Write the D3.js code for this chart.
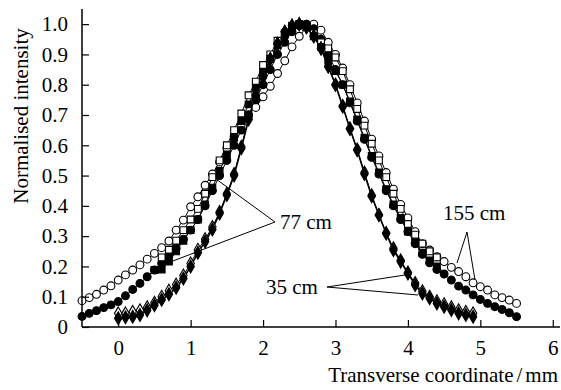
<!DOCTYPE html>
<html><head><meta charset="utf-8">
<script src="https://cdn.jsdelivr.net/npm/d3@7"></script>
<style>body{margin:0;background:#fff}</style></head>
<body><svg id="c" width="561" height="390"></svg>
<script>
// ---- data ----
const xTicks = [0,1,2,3,4,5,6];
const yTicks = [0,0.1,0.2,0.3,0.4,0.5,0.6,0.7,0.8,0.9,1.0];
const yTickLabels = ["0","0.1","0.2","0.3","0.4","0.5","0.6","0.7","0.8","0.9","1.0"];

// 155 cm, open circles, x from -0.5 step 0.1
const open155Start = -0.5;
const open155 = [0.087,0.097,0.108,0.122,0.136,0.155,0.172,0.188,0.205,0.224,
 0.243,0.262,0.284,0.320,0.353,0.397,0.430,0.468,0.505,0.545,
 0.590,0.630,0.670,0.700,0.725,0.760,0.795,0.837,0.879,0.925,
 0.960,0.990,1.000,0.980,0.940,0.900,0.855,0.800,0.740,0.680,
 0.620,0.565,0.510,0.455,0.405,0.360,0.315,0.275,0.254,0.232,
 0.216,0.197,0.183,0.166,0.146,0.133,0.122,0.106,0.097,0.089,0.078];
// 155 cm, filled circles
const fill155Start = -0.5;
const fill155 = [0.035,0.045,0.054,0.064,0.073,0.084,0.103,0.124,0.144,0.166,
 0.188,0.210,0.235,0.260,0.290,0.320,0.355,0.400,0.450,0.500,
 0.550,0.600,0.650,0.700,0.750,0.800,0.850,0.900,0.940,0.975,
 0.995,1.000,0.985,0.950,0.900,0.850,0.800,0.740,0.680,0.620,
 0.560,0.505,0.450,0.400,0.355,0.315,0.275,0.240,0.212,0.190,
 0.175,0.155,0.135,0.122,0.106,0.091,0.078,0.067,0.058,0.047,0.034];
// 77 cm, open squares, x from 0.6
const open77Start = 0.6;
const open77 = [0.230,0.255,0.285,0.320,0.355,0.390,0.440,0.495,0.550,0.600,
 0.650,0.705,0.765,0.810,0.865,0.900,0.945,0.970,0.995,1.000,
 0.990,0.970,0.940,0.920,0.890,0.845,0.785,0.720,0.665,0.605,
 0.550,0.495,0.440,0.390,0.340,0.305,0.275,0.250,0.230];
// 77 cm, filled squares, x from 0.5
const fill77Start = 0.5;
const fill77 = [0.188,0.190,0.216,0.250,0.285,0.320,0.355,0.405,0.460,0.515,
 0.570,0.625,0.680,0.735,0.790,0.840,0.885,0.930,0.965,0.990,
 1.000,0.990,0.960,0.925,0.880,0.845,0.800,0.745,0.685,0.625,
 0.565,0.510,0.455,0.405,0.360,0.315,0.280,0.245,0.220,0.200];
// 35 cm, open diamonds, x from 0
const open35Start = 0.0;
const open35 = [0.045,0.045,0.050,0.055,0.065,0.080,0.100,0.120,0.140,0.170,
 0.210,0.255,0.290,0.330,0.380,0.440,0.505,0.595,0.690,0.765,
 0.830,0.885,0.935,0.975,0.995,1.000,0.990,0.960,0.920,0.860,
 0.800,0.730,0.655,0.585,0.510,0.435,0.370,0.310,0.260,0.220,
 0.180,0.145,0.118,0.100,0.085,0.075,0.065,0.055,0.050,0.045];
// 35 cm, filled diamonds
const fill35Start = 0.0;
const fill35 = [0.029,0.032,0.034,0.040,0.055,0.072,0.090,0.108,0.130,0.160,
 0.200,0.245,0.282,0.322,0.375,0.436,0.500,0.590,0.685,0.765,
 0.825,0.885,0.935,0.975,0.995,1.000,0.990,0.960,0.920,0.860,
 0.800,0.728,0.655,0.585,0.505,0.432,0.370,0.309,0.254,0.216,
 0.177,0.139,0.111,0.095,0.078,0.067,0.056,0.045,0.040,0.034];

const labels = [
  {text:"77 cm", tx:280, ty:229},
  {text:"35 cm", tx:266, ty:294},
  {text:"155 cm", tx:443, ty:220}
];

// ---- chart ----
const FONT = "'Liberation Serif'";
const FS = 21;
const svg = d3.select("#c");
const x = d3.scaleLinear().domain([-0.5, 6.1]).range([82, 560]);
const y = d3.scaleLinear().domain([0, 1.05]).range([327, 9]);

const toPts = (start, arr) => arr.map((v,i)=>({x: Math.round((start + i*0.1)*10)/10, v}));

const series = [
  {pts: toPts(open155Start, open155), shape:"circle", fill:"#fff", lw:1},
  {pts: toPts(fill155Start, fill155), shape:"circle", fill:"#000", lw:1},
  {pts: toPts(open77Start, open77), shape:"square", fill:"#fff", lw:1},
  {pts: toPts(fill77Start, fill77), shape:"square", fill:"#000", lw:1},
  {pts: toPts(open35Start, open35), shape:"diamond", fill:"#fff", lw:1},
  {pts: toPts(fill35Start, fill35), shape:"diamond", fill:"#000", lw:1.6}
];

const line = d3.line().x(d=>x(d.x)).y(d=>y(d.v));
series.forEach(s=>{
  svg.append("path").attr("d", line(s.pts)).attr("fill","none").attr("stroke","#000").attr("stroke-width", s.lw);
});
const sym = {
  circle: d3.symbol().type(d3.symbolCircle).size(48),
  square: d3.symbol().type(d3.symbolSquare).size(46),
  diamond: d3.symbol().type(d3.symbolDiamond).size(48)
};
series.forEach(s=>{
  svg.append("g").selectAll("path").data(s.pts).join("path")
    .attr("d", sym[s.shape]())
    .attr("transform", d=>`translate(${x(d.x)},${y(d.v)})`)
    .attr("fill", s.fill).attr("stroke","#000").attr("stroke-width",1.1);
});

function styleText(sel){ return sel.attr("font-size",FS).attr("font-family",null).style("font-family",FONT).style("font-size",FS+"px").attr("fill","#000"); }

// axes
const xAxis = d3.axisBottom(x).tickValues(xTicks).tickSize(-7).tickPadding(13).tickFormat(d3.format("d"));
const gx = svg.append("g").attr("transform","translate(0,327)").call(xAxis).attr("font-family",null).attr("font-size",null);
gx.select(".domain").attr("d","M82,0H560").attr("stroke","#000").attr("stroke-width",1.5);
styleText(gx.selectAll("text"));
gx.selectAll("line").attr("stroke-width",1.2);

const yAxis = d3.axisLeft(y).tickValues(yTicks).tickSize(-7).tickPadding(14).tickFormat((d,i)=>yTickLabels[i]);
const gy = svg.append("g").attr("transform","translate(82,0)").call(yAxis).attr("font-family",null).attr("font-size",null);
gy.select(".domain").attr("d","M0,9V327").attr("stroke","#000").attr("stroke-width",1.5);
styleText(gy.selectAll("text"));
gy.selectAll("line").attr("stroke-width",1.2);

styleText(svg.append("text").attr("transform","translate(28,116) rotate(-90)").attr("text-anchor","middle")
  .text("Normalised intensity"));
const xt = styleText(svg.append("text").attr("x",558).attr("y",382).attr("text-anchor","end"));
xt.append("tspan").text("Transverse coordinate");
xt.append("tspan").attr("dx",3).text("/");
xt.append("tspan").attr("dx",3).text("mm");

// annotations
labels.forEach(l=>styleText(svg.append("text").attr("x",l.tx).attr("y",l.ty).text(l.text)));
const leaders = [
  [[275,222],[216,179]],[[275,222],[165,264]],
  [[327,287],[405,275]],[[327,287],[418,295]],
  [[467,232],[457,263]],[[467,232],[475,280]]
];
leaders.forEach(p=>svg.append("path").attr("d", d3.line()(p)).attr("stroke","#000").attr("stroke-width",1).attr("fill","none"));
</script></body></html>
